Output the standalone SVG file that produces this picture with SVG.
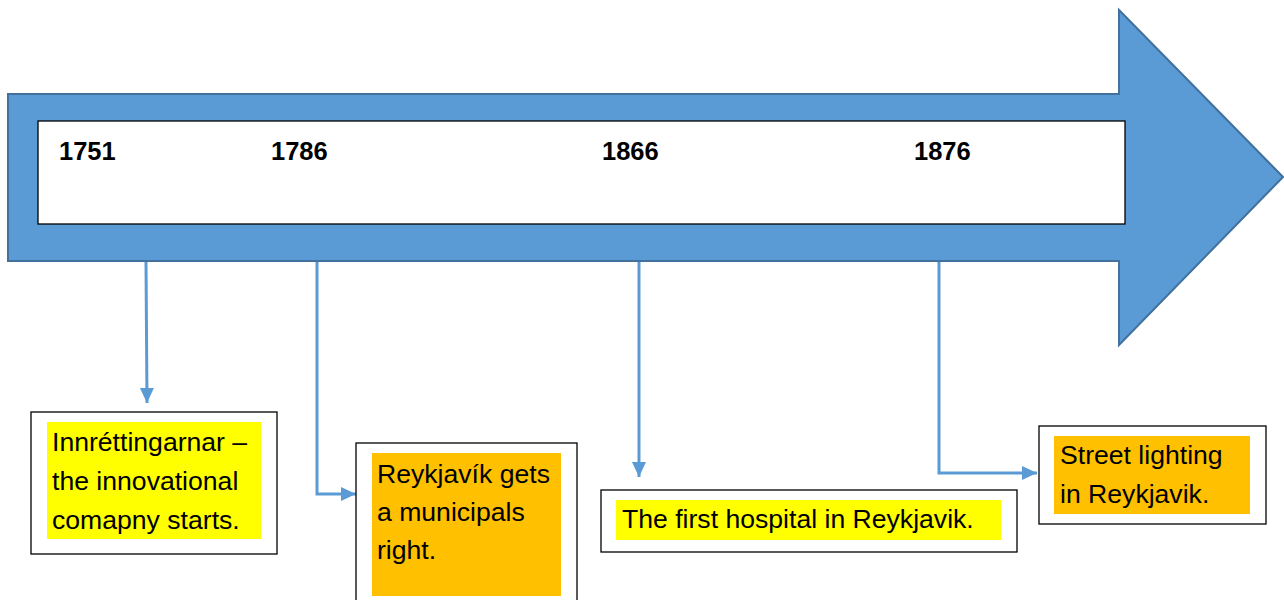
<svg xmlns="http://www.w3.org/2000/svg" width="1284" height="600" viewBox="0 0 1284 600">
<style>
.yr{font-family:"Liberation Sans",Arial,sans-serif;font-weight:bold;font-size:25.5px;fill:#000}
.tx{font-family:"Liberation Sans",Arial,sans-serif;font-size:26.6px;fill:#000}
.box{fill:#fff;stroke:#000;stroke-width:1.3}
.conn{fill:none;stroke:#5B9BD5;stroke-width:3}
.yel{fill:#FFFF00}
.org{fill:#FFC000}
</style>
<defs>
<marker id="ah" markerUnits="userSpaceOnUse" markerWidth="16" markerHeight="16" viewBox="0 0 16 16" refX="15" refY="8" orient="auto">
<path d="M0,1 L15,8 L0,15 z" fill="#5B9BD5"/>
</marker>
</defs>
<g id="timeline">
<path d="M8,94 L1119,94 L1119,10 L1283,177 L1119,345 L1119,261 L8,261 Z" fill="#5B9BD5" stroke="#41719C" stroke-width="2"/>
<rect x="38" y="121" width="1087" height="103" fill="#fff" stroke="#000" stroke-width="1.3"/>
<text class="yr" x="59" y="160">1751</text>
<text class="yr" x="271" y="160">1786</text>
<text class="yr" x="602" y="160">1866</text>
<text class="yr" x="914" y="160">1876</text>
</g>
<g id="connectors">
<path class="conn" d="M146,262 L147,403" marker-end="url(#ah)"/>
<path class="conn" d="M317,262 L317,494 L356,494" marker-end="url(#ah)"/>
<path class="conn" d="M639,262 L639,477" marker-end="url(#ah)"/>
<path class="conn" d="M939,262 L939,473 L1037,473" marker-end="url(#ah)"/>
</g>
<g id="event1751">
<rect class="box" x="31" y="412" width="246" height="142"/>
<rect class="yel" x="47" y="422" width="214" height="117"/>
<text class="tx" x="52" y="451">Innréttingarnar –</text>
<text class="tx" x="52" y="490">the innovational</text>
<text class="tx" x="52" y="529">comapny starts.</text>
</g>
<g id="event1786">
<rect class="box" x="356" y="443" width="221" height="170"/>
<rect class="org" x="372" y="453" width="189" height="143"/>
<text class="tx" x="377" y="483">Reykjavík gets</text>
<text class="tx" x="377" y="521">a municipals</text>
<text class="tx" x="377" y="559">right.</text>
</g>
<g id="event1866">
<rect class="box" x="601" y="490" width="416" height="62"/>
<rect class="yel" x="616" y="500" width="385" height="40"/>
<text class="tx" x="622" y="528">The first hospital in Reykjavik.</text>
</g>
<g id="event1876">
<rect class="box" x="1039" y="426" width="227" height="98"/>
<rect class="org" x="1054" y="436" width="196" height="78"/>
<text class="tx" x="1060" y="464">Street lighting</text>
<text class="tx" x="1060" y="503">in Reykjavik.</text>
</g>
</svg>
